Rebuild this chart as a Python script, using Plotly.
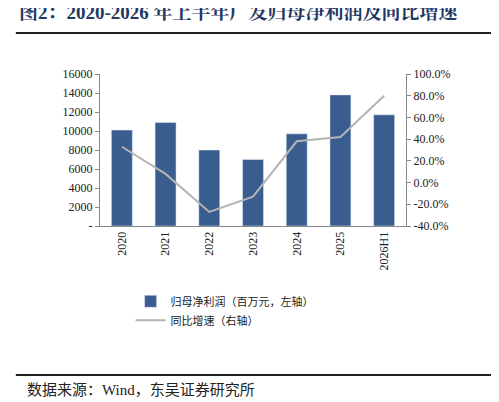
import plotly.graph_objects as go

years = ["2020", "2021", "2022", "2023", "2024", "2025", "2026H1"]
profit = [10100, 10900, 8000, 7000, 9700, 13800, 11700]
growth = [33, 8, -27, -13, 38, 42, 80]

left_ticks = [0, 2000, 4000, 6000, 8000, 10000, 12000, 14000, 16000]
left_labels = ["-"] + [str(v) for v in left_ticks[1:]]
right_ticks = [-40, -20, 0, 20, 40, 60, 80, 100]
right_labels = ["%.1f%%" % v for v in right_ticks]

font = "Times New Roman, Liberation Serif, Noto Sans CJK SC"

fig = go.Figure()
fig.add_trace(go.Bar(x=years, y=profit, name="归母净利润（百万元，左轴）",
                     marker_color="#3a5d8f", width=0.48))
fig.add_trace(go.Scatter(x=years, y=growth, name="同比增速（右轴）", yaxis="y2",
                         mode="lines", line=dict(color="#b4b4b4", width=2)))

fig.update_layout(
    width=499, height=402,
    margin=dict(l=92, r=101, t=66, b=184),
    paper_bgcolor="white", plot_bgcolor="white",
    font=dict(family=font, size=12, color="#222"),
    xaxis=dict(tickangle=-90, showline=True, linecolor="#888", ticks="", tickfont=dict(size=12)),
    yaxis=dict(range=[0, 16000], tickvals=left_ticks, ticktext=left_labels,
               showgrid=False, showline=True, linecolor="#888", ticks="outside",
               ticklen=4, tickcolor="#888", zeroline=False),
    yaxis2=dict(range=[-40, 100], tickvals=right_ticks, ticktext=right_labels,
                overlaying="y", side="right", showgrid=False, showline=True,
                linecolor="#888", ticks="outside", ticklen=4, tickcolor="#888",
                zeroline=False),
    legend=dict(x=0.1, y=-0.4, xanchor="left", yanchor="top",
                font=dict(family="Noto Sans CJK SC", size=11), tracegroupgap=10),
    showlegend=True,
)

fig.add_annotation(text="<b>图2：2020-2026 年上半年广发归母净利润及同比增速</b>",
                   xref="paper", yref="paper", x=-0.27, y=1.41, xanchor="left", yanchor="middle",
                   showarrow=False, font=dict(family="Times New Roman, Noto Serif CJK SC, Noto Sans CJK SC",
                                              size=19, color="#1f3864"))
fig.add_shape(type="line", xref="paper", yref="paper", x0=-0.275, x1=1.315, y0=1.27, y1=1.27,
              line=dict(color="#222", width=2))
fig.add_shape(type="line", xref="paper", yref="paper", x0=-0.275, x1=1.315, y0=-0.98, y1=-0.98,
              line=dict(color="#222", width=2))
fig.add_annotation(text="数据来源：Wind，东吴证券研究所", xref="paper", yref="paper",
                   x=-0.245, y=-1.08, xanchor="left", yanchor="middle", showarrow=False,
                   font=dict(family="Times New Roman, Noto Sans CJK SC", size=15, color="#222"))

fig.write_html("out.html")
